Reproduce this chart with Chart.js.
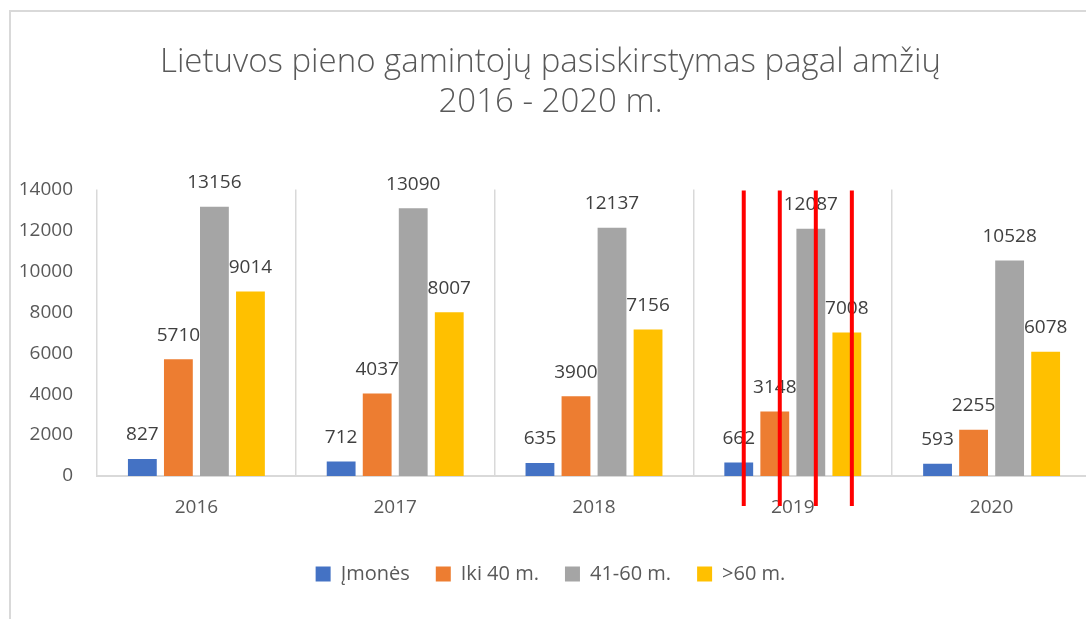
<!DOCTYPE html>
<html>
<head>
<meta charset="utf-8">
<script src="https://cdn.jsdelivr.net/npm/chart.js@4"></script>
<style>
  html, body { margin: 0; padding: 0; background: #fff; overflow: hidden; width: 1086px; height: 619px; }
  #frame { position: absolute; left: 9px; top: 10px; width: 1200px; height: 700px;
           border-top: 2px solid #d9d9d9; border-left: 2px solid #d9d9d9; }
  #salesChart { position: absolute; left: 10px; top: 12px; }
</style>
</head>
<body>
<div id="frame"></div>
<canvas id="salesChart" width="1090" height="607"></canvas>
<script>
const years = ["2016", "2017", "2018", "2019", "2020"];
const seriesNames = ["Įmonės", "Iki 40 m.", "41-60 m.", ">60 m."];
const imones = [827, 712, 635, 662, 593];
const iki40 = [5710, 4037, 3900, 3148, 2255];
const nuo41iki60 = [13156, 13090, 12137, 12087, 10528];
const virs60 = [9014, 8007, 7156, 7008, 6078];
const yTicks = [0, 2000, 4000, 6000, 8000, 10000, 12000, 14000];
const markedYear = "2019"; // red lines drawn over this group

const colors = ["#4472C4", "#ED7D31", "#A5A5A5", "#FFC000"];
const txt = "#595959";

// value labels above each bar
const valueLabels = {
  id: "valueLabels",
  afterDatasetsDraw(chart) {
    const ctx = chart.ctx;
    ctx.save();
    ctx.font = "19px 'Open Sans'";
    ctx.fillStyle = "#404040";
    ctx.textAlign = "center";
    ctx.textBaseline = "middle";
    chart.data.datasets.forEach((ds, i) => {
      chart.getDatasetMeta(i).data.forEach((bar, j) => {
        ctx.fillText(String(ds.data[j]), bar.x, bar.y - 24);
      });
    });
    ctx.restore();
  }
};

// red vertical marks over the 2019 bars
const redMarks = {
  id: "redMarks",
  afterDraw(chart) {
    const idx = years.indexOf(markedYear);
    const ctx = chart.ctx;
    const area = chart.chartArea;
    ctx.save();
    ctx.strokeStyle = "#FF0000";
    ctx.lineWidth = 4;
    chart.data.datasets.forEach((ds, i) => {
      const bar = chart.getDatasetMeta(i).data[idx];
      ctx.beginPath();
      ctx.moveTo(bar.x + 5, area.top + 1);
      ctx.lineTo(bar.x + 5, area.bottom + 30);
      ctx.stroke();
    });
    ctx.restore();
  }
};

const ctx = document.getElementById("salesChart").getContext("2d");

new Chart(ctx, {
  type: "bar",
  data: {
    labels: years,
    datasets: [imones, iki40, nuo41iki60, virs60].map((vals, i) => ({
      label: seriesNames[i],
      data: vals,
      backgroundColor: colors[i],
      borderWidth: 0,
      categoryPercentage: 0.725,
      barPercentage: 0.8
    }))
  },
  options: {
    responsive: false,
    devicePixelRatio: 1,
    animation: false,
    layout: { padding: { left: 0, right: 9, top: 0, bottom: 25 } },
    plugins: {
      title: {
        display: true,
        text: ["Lietuvos pieno gamintojų pasiskirstymas pagal amžių", "2016 - 2020 m."],
        color: txt,
        font: { family: "'Open Sans'", size: 33, weight: "300", lineHeight: 1.22 },
        padding: { top: 30, bottom: 67 }
      },
      legend: {
        position: "bottom",
        labels: {
          color: txt,
          font: { family: "'Open Sans'", size: 20 },
          boxWidth: 15,
          boxHeight: 15,
          padding: 26
        }
      },
      tooltip: { enabled: false }
    },
    scales: {
      x: {
        grid: { display: true, offset: true, color: "#d9d9d9", lineWidth: 1.5, drawTicks: false },
        border: { display: true, color: "#d9d9d9", width: 2 },
        ticks: { color: txt, font: { family: "'Open Sans'", size: 19 }, padding: 20 },
        afterFit: s => { s.height = 62; }
      },
      y: {
        min: 0,
        max: yTicks[yTicks.length - 1],
        afterBuildTicks: s => { s.ticks = yTicks.map(v => ({ value: v })); },
        grid: { display: false, drawTicks: false },
        border: { display: false },
        ticks: { color: txt, font: { family: "'Open Sans'", size: 19 }, padding: 24, callback: v => String(v) },
        afterFit: s => { s.width = 87; }
      }
    }
  },
  plugins: [valueLabels, redMarks]
});
</script>
</body>
</html>
